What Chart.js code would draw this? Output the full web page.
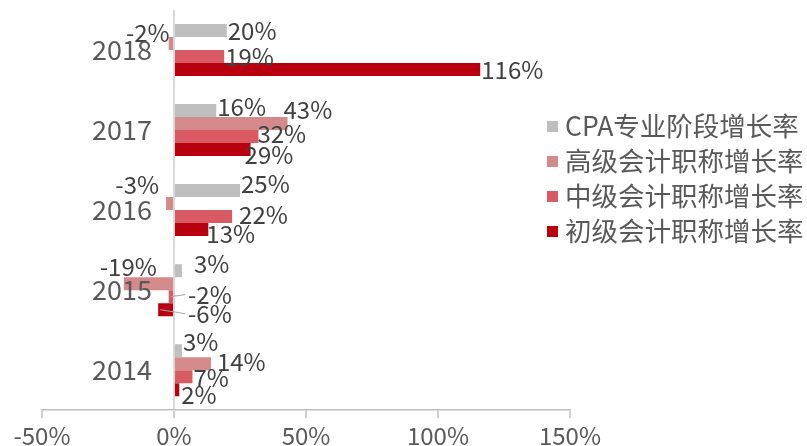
<!DOCTYPE html>
<html>
<head>
<meta charset="utf-8">
<script src="https://cdn.jsdelivr.net/npm/chart.js@4.4.1/dist/chart.umd.min.js"></script>
<style>
  html, body { margin: 0; padding: 0; background: #fff; }
  #wrap { width: 807px; height: 446px; }
</style>
</head>
<body>
<div id="wrap"><canvas id="growthChart"></canvas></div>
<script>
// Categories (top to bottom) and growth rates in %
const years = ['2018', '2017', '2016', '2015', '2014'];
const seriesNames = ['CPA专业阶段增长率', '高级会计职称增长率', '中级会计职称增长率', '初级会计职称增长率'];
const cpaRate = [20, 16, 25, 3, 3];
const seniorRate = [-2, 43, -3, -19, 14];
const middleRate = [19, 32, 22, -2, 7];
const juniorRate = [116, 29, 13, -6, 2];
const xTicks = [-50, 0, 50, 100, 150];

const colors = ['#BFBFBF', '#D48A8A', '#D95A63', '#B8000E'];
const FONT = '"Noto Sans CJK SC", "Noto Sans", sans-serif';
const AXIS_TEXT = '#595959';
const LABEL_TEXT = '#404040';

// label nudges (dx, dy, flip to right side) to mimic the original's label placement
const labelNudge = {
    '1-0': [2, -11],
    '0-1': [0, -4], '1-1': [-5, -14], '2-1': [-2, -3], '3-1': [-7, 5],
    '0-2': [0, -7], '1-2': [-6, -19], '2-2': [6, -2], '3-2': [-3, 4],
    '0-3': [11, -7], '1-3': [34, -17], '2-3': [0, -2, true], '3-3': [0, 4, true],
    '0-4': [0, -9], '1-4': [5, -2], '2-4': [0, 1], '3-4': [1, 5]
};

// Draw category labels next to the zero line
const yearLabels = {
    id: 'yearLabels',
    afterDraw(chart) {
        const ctx = chart.ctx;
        const x0 = chart.scales.x.getPixelForValue(0);
        ctx.save();
        ctx.font = '27px ' + FONT;
        ctx.fillStyle = AXIS_TEXT;
        ctx.textAlign = 'right';
        ctx.textBaseline = 'middle';
        years.forEach((y, i) => {
            ctx.fillText(y, x0 - 22, chart.scales.y.getPixelForValue(i));
        });
        ctx.restore();
    }
};

// Value labels at the bar ends
const barLabels = {
    id: 'barLabels',
    afterDatasetsDraw(chart) {
        const ctx = chart.ctx;
        ctx.save();
        ctx.font = '24px ' + FONT;
        ctx.textBaseline = 'middle';
        chart.data.datasets.forEach((ds, di) => {
            chart.getDatasetMeta(di).data.forEach((bar, i) => {
                const v = ds.data[i];
                const [dx, dy, flip] = labelNudge[di + '-' + i] || [0, 0];
                const y = bar.y + dy;
                let x;
                if (flip) {
                    x = bar.base + 15 + dx;
                    ctx.textAlign = 'left';
                    ctx.strokeStyle = '#A6A6A6';
                    ctx.lineWidth = 1;
                    ctx.beginPath();
                    ctx.moveTo(bar.x + 2, bar.y);
                    ctx.lineTo(x - 3, y);
                    ctx.stroke();
                } else if (v >= 0) {
                    x = bar.x + 1 + dx;
                    ctx.textAlign = 'left';
                } else {
                    x = bar.x - 1 + dx;
                    ctx.textAlign = 'right';
                }
                ctx.fillStyle = LABEL_TEXT;
                ctx.fillText(v + '%', x, y);
            });
        });
        ctx.restore();
    }
};

// Legend on the right, drawn over the plot like the original
const sideLegend = {
    id: 'sideLegend',
    afterDraw(chart) {
        const ctx = chart.ctx;
        ctx.save();
        ctx.font = '26.5px ' + FONT;
        ctx.textBaseline = 'middle';
        ctx.textAlign = 'left';
        chart.data.datasets.forEach((ds, i) => {
            const y = 126 + i * 35;
            ctx.fillStyle = ds.backgroundColor;
            ctx.fillRect(547, y - 5, 11, 11);
            ctx.fillStyle = AXIS_TEXT;
            ctx.fillText(ds.label, 565, y);
        });
        ctx.restore();
    }
};

const ctx = document.getElementById('growthChart').getContext('2d');
const growthChart = new Chart(ctx, {
    type: 'bar',
    data: {
        labels: years,
        datasets: [cpaRate, seniorRate, middleRate, juniorRate].map((d, i) => ({
            label: seriesNames[i],
            data: d,
            backgroundColor: colors[i],
            borderWidth: 0,
            barPercentage: 1,
            categoryPercentage: 0.65
        }))
    },
    options: {
        indexAxis: 'y',
        responsive: true,
        maintainAspectRatio: false,
        animation: false,
        layout: { padding: { left: 42, right: 237, top: 10, bottom: -7 } },
        plugins: {
            legend: { display: false },
            tooltip: { enabled: false }
        },
        scales: {
            x: {
                min: -50,
                max: 150,
                afterBuildTicks: s => { s.ticks = xTicks.map(v => ({ value: v })); },
                grid: {
                    drawOnChartArea: true,
                    color: c => (c.tick && c.tick.value === 0) ? '#D9D9D9' : 'rgba(0,0,0,0)',
                    lineWidth: 2,
                    tickColor: '#BFBFBF',
                    tickWidth: 1.5,
                    tickLength: 8
                },
                border: { display: true, color: '#BFBFBF', width: 1.5 },
                ticks: {
                    padding: 3,
                    color: AXIS_TEXT,
                    font: { size: 24, family: FONT },
                    maxRotation: 0,
                    callback: v => v + '%'
                }
            },
            y: {
                display: false
            }
        }
    },
    plugins: [yearLabels, barLabels, sideLegend]
});
</script>
</body>
</html>
